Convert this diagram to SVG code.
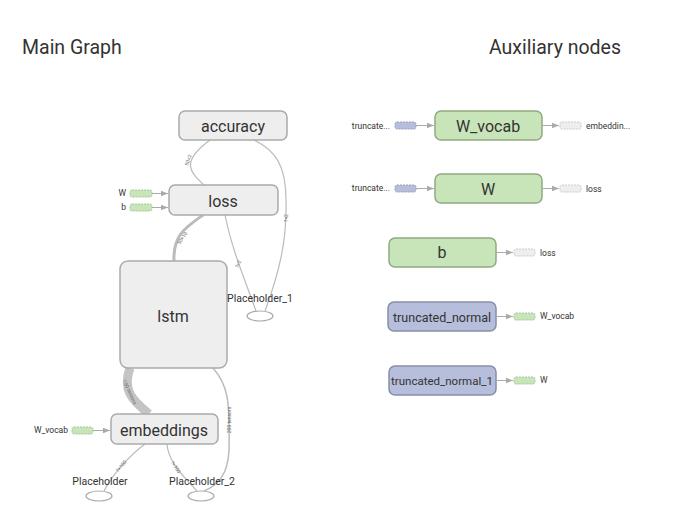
<svg xmlns="http://www.w3.org/2000/svg" width="679" height="532" viewBox="0 0 679 532">
<defs>
<style>
text{font-family:Roboto,"Liberation Sans",sans-serif;fill:#333}
.title{font-size:19.5px}
.nl{font-size:16px;text-anchor:middle;dominant-baseline:central}
.sl{font-size:8.5px;dominant-baseline:central}
.pl{font-size:10.5px;text-anchor:middle;dominant-baseline:central}
.el{font-size:5px;fill:#666;text-anchor:middle;dominant-baseline:central}
.grey{fill:#eeeeee;stroke:#aaaaaa;stroke-width:1.5}
.green{fill:#c8e4b9;stroke:#91a981;stroke-width:1.5}
.blue{fill:#b6bedb;stroke:#888ea6;stroke-width:1.5}
.sg{fill:#c8e4b9;stroke:#a8c79a;stroke-width:1;stroke-dasharray:2,1}
.sb{fill:#b6bedb;stroke:#98a0bd;stroke-width:1;stroke-dasharray:2,1}
.sw{fill:#eeeeee;stroke:#cccccc;stroke-width:1;stroke-dasharray:2,1}
.edge{fill:none;stroke:#bbbbbb;stroke-width:1.2}
.stub{fill:none;stroke:#aaaaaa;stroke-width:1;marker-end:url(#ah)}
.ph{fill:#ffffff;stroke:#aaaaaa;stroke-width:1.2}
</style>
<marker id="ah" viewBox="0 0 10 10" refX="10" refY="5" markerWidth="7" markerHeight="7" orient="auto" markerUnits="userSpaceOnUse">
<path d="M0,1 L10,5 L0,9 z" fill="#aaaaaa"/>
</marker>
</defs>
<rect width="679" height="532" fill="#ffffff"/>
<text class="title" x="22" y="54">Main Graph</text>
<text class="title" x="489" y="54">Auxiliary nodes</text>

<g id="connectors">
<path class="edge" d="M204,185 C190,172 180,162 210,140"/>
<text class="el" transform="translate(188,160) rotate(-70)">50×2</text>
<path class="edge" d="M265,311 C280,270 287,240 286,200 C286,165 275,150 254,140"/>
<text class="el" transform="translate(286,218) rotate(-90)">?×2</text>
<path class="edge" d="M256,311 C245,280 232,250 225,215"/>
<text class="el" transform="translate(238,264) rotate(-70)">?×2</text>
<path class="edge" style="stroke-width:3" d="M174,261 C173,235 185,228 203,215"/>
<text class="el" transform="translate(182,238) rotate(-55)">50×10</text>
<path class="edge" style="stroke-width:9;stroke:#c4c4c4" d="M149,414 C132,400 122,390 130,368"/>
<text class="el" transform="translate(130,392) rotate(65)">100 tensors</text>
<path class="edge" style="stroke-width:1.5" d="M213,368 C228,385 230,400 229,450 C228,475 218,485 204,491"/>
<text class="el" transform="translate(229,420) rotate(-90)">200 tensors</text>
<path class="edge" d="M104,491 C112,475 130,455 145,444"/>
<text class="el" transform="translate(121,466) rotate(-50)">?×100</text>
<path class="edge" d="M197,491 C185,478 168,462 167,444"/>
<text class="el" transform="translate(176,467) rotate(55)">?×100</text>
</g>

<g id="accuracy">
<rect class="grey" x="179" y="111" width="108" height="29" rx="6"/>
<text class="nl" x="233" y="126">accuracy</text>
</g>
<g id="loss">
<rect class="grey" x="169" y="185" width="109" height="30" rx="6"/>
<text class="nl" x="223" y="201">loss</text>
<text class="sl" x="126" y="193" text-anchor="end">W</text>
<rect class="sg" x="130" y="190" width="22" height="7" rx="2"/>
<path class="stub" d="M152,193.5 L168,193.5"/>
<text class="sl" x="126" y="207" text-anchor="end">b</text>
<rect class="sg" x="130" y="204" width="22" height="7" rx="2"/>
<path class="stub" d="M152,207.5 L168,207.5"/>
</g>
<g id="lstm">
<rect class="grey" x="120" y="261" width="107" height="107" rx="8"/>
<text class="nl" x="173" y="316">lstm</text>
</g>
<g id="Placeholder_1">
<text class="pl" x="260" y="298">Placeholder_1</text>
<ellipse class="ph" cx="260" cy="316" rx="13" ry="5"/>
</g>
<g id="embeddings">
<rect class="grey" x="111" y="414" width="107" height="30" rx="6"/>
<text class="nl" x="164" y="430">embeddings</text>
<text class="sl" x="68" y="430" text-anchor="end">W_vocab</text>
<rect class="sg" x="72" y="427" width="21" height="7" rx="2"/>
<path class="stub" d="M93,430.5 L110,430.5"/>
</g>
<g id="Placeholder">
<text class="pl" x="100" y="481">Placeholder</text>
<ellipse class="ph" cx="99" cy="496" rx="13" ry="5"/>
</g>
<g id="Placeholder_2">
<text class="pl" x="202" y="481">Placeholder_2</text>
<ellipse class="ph" cx="201" cy="496" rx="13" ry="5"/>
</g>

<g id="W_vocab">
<text class="sl" x="390" y="126" text-anchor="end">truncate...</text>
<rect class="sb" x="395" y="122" width="21" height="7" rx="2"/>
<path class="stub" d="M416,125.5 L434,125.5"/>
<rect class="green" x="435" y="111" width="107" height="29" rx="6"/>
<text class="nl" x="488" y="126">W_vocab</text>
<path class="stub" d="M542,125.5 L559,125.5"/>
<rect class="sw" x="560" y="122" width="21" height="7" rx="2"/>
<text class="sl" x="586" y="126">embeddin...</text>
</g>
<g id="W">
<text class="sl" x="390" y="188" text-anchor="end">truncate...</text>
<rect class="sb" x="395" y="185" width="21" height="7" rx="2"/>
<path class="stub" d="M416,188.5 L434,188.5"/>
<rect class="green" x="435" y="174" width="107" height="29" rx="6"/>
<text class="nl" x="488" y="189">W</text>
<path class="stub" d="M542,188.5 L559,188.5"/>
<rect class="sw" x="560" y="185" width="21" height="7" rx="2"/>
<text class="sl" x="586" y="189">loss</text>
</g>
<g id="b">
<rect class="green" x="389" y="238" width="107" height="29" rx="6"/>
<text class="nl" x="442" y="252">b</text>
<path class="stub" d="M496,252.5 L513,252.5"/>
<rect class="sw" x="514" y="249" width="21" height="7" rx="2"/>
<text class="sl" x="540" y="253">loss</text>
</g>
<g id="truncated_normal">
<rect class="blue" x="388" y="302" width="108" height="29" rx="6"/>
<text class="nl" style="font-size:12.5px" x="442" y="317">truncated_normal</text>
<path class="stub" d="M496,316.5 L513,316.5"/>
<rect class="sg" x="514" y="313" width="21" height="7" rx="2"/>
<text class="sl" x="540" y="316">W_vocab</text>
</g>
<g id="truncated_normal_1">
<rect class="blue" x="389" y="366" width="107" height="29" rx="6"/>
<text class="nl" style="font-size:11.5px" x="442" y="381">truncated_normal_1</text>
<path class="stub" d="M496,380.5 L513,380.5"/>
<rect class="sg" x="514" y="377" width="21" height="7" rx="2"/>
<text class="sl" x="540" y="380">W</text>
</g>
</svg>
